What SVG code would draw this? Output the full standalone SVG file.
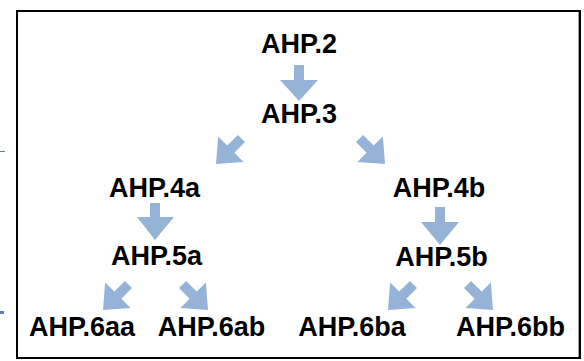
<svg xmlns="http://www.w3.org/2000/svg" width="584" height="361" viewBox="0 0 584 361">
  <style>
    .lbl { font-family: "Liberation Sans", Arial, sans-serif; font-weight: bold; font-size: 27px; fill: #000; text-anchor: middle; }
    .arr { fill: #95b3d7; }
  </style>
  <defs>
    <path id="darrow" d="M-5,-36 L5,-36 L5,-21 L18,-21 L0,0 L-18,-21 L-5,-21 Z"/>
  </defs>
  <rect x="0" y="0" width="584" height="361" fill="#fff"/>
  <rect x="0" y="151" width="5" height="1" fill="#4f81bd"/>
  <rect x="0" y="311" width="4" height="3" fill="#4f81bd"/>
  <rect x="17" y="11" width="563" height="347" fill="none" stroke="#000" stroke-width="2"/>
  <line x1="578.5" y1="12" x2="578.5" y2="357" stroke="#999" stroke-width="1"/>

  <g id="connectors" class="arr">
    <path d="M294,65 L304,65 L304,80 L318,80 L299,101 L280,80 L294,80 Z"/>
    <use href="#darrow" transform="translate(216,164) rotate(45)"/>
    <use href="#darrow" transform="translate(385,164) rotate(-45)"/>
    <path d="M150,203 L160,203 L160,217 L174,217 L155,240 L137,217 L150,217 Z"/>
    <path d="M435,207 L445,207 L445,222 L459,222 L440,245 L421,222 L435,222 Z"/>
    <use href="#darrow" transform="translate(103,310) rotate(45)"/>
    <use href="#darrow" transform="translate(208,310) rotate(-45)"/>
    <use href="#darrow" transform="translate(388,310) rotate(45)"/>
    <use href="#darrow" transform="translate(493,310) rotate(-45)"/>
  </g>

  <g id="n-ahp2"><text class="lbl" x="299" y="53">AHP.2</text></g>
  <g id="n-ahp3"><text class="lbl" x="299" y="123">AHP.3</text></g>
  <g id="n-ahp4a"><text class="lbl" x="154.5" y="197">AHP.4a</text></g>
  <g id="n-ahp4b"><text class="lbl" x="439" y="197">AHP.4b</text></g>
  <g id="n-ahp5a"><text class="lbl" x="156.5" y="265">AHP.5a</text></g>
  <g id="n-ahp5b"><text class="lbl" x="441.5" y="266">AHP.5b</text></g>
  <g id="n-ahp6aa"><text class="lbl" x="82" y="336">AHP.6aa</text></g>
  <g id="n-ahp6ab"><text class="lbl" x="211.5" y="336">AHP.6ab</text></g>
  <g id="n-ahp6ba"><text class="lbl" x="352" y="336">AHP.6ba</text></g>
  <g id="n-ahp6bb"><text class="lbl" x="510.5" y="336">AHP.6bb</text></g>
</svg>
